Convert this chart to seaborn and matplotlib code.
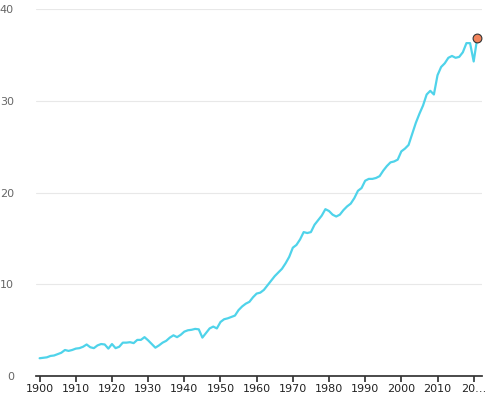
import matplotlib
matplotlib.use("Agg")
import matplotlib.pyplot as plt
import seaborn as sns
import pandas as pd

years = list(range(1900, 2022))
values = [1.95,2.0,2.05,2.2,2.25,2.4,2.55,2.85,2.75,2.85,
          3.0,3.05,3.2,3.45,3.15,3.05,3.35,3.5,3.45,3.0,
          3.5,3.05,3.2,3.65,3.65,3.7,3.6,3.95,3.95,4.25,
          3.9,3.5,3.1,3.35,3.65,3.85,4.2,4.45,4.25,4.5,
          4.85,5.0,5.05,5.15,5.1,4.2,4.7,5.2,5.4,5.2,
          5.9,6.2,6.3,6.45,6.6,7.2,7.6,7.9,8.1,8.6,
          9.0,9.1,9.4,9.9,10.4,10.9,11.3,11.7,12.3,13.0,
          14.0,14.3,14.9,15.7,15.6,15.7,16.5,17.0,17.5,18.2,
          18.0,17.6,17.4,17.6,18.1,18.5,18.8,19.4,20.2,20.5,
          21.3,21.5,21.5,21.6,21.8,22.4,22.9,23.3,23.4,23.6,
          24.5,24.8,25.2,26.4,27.6,28.6,29.5,30.7,31.1,30.7,
          32.8,33.7,34.1,34.7,34.9,34.7,34.8,35.3,36.3,36.3,
          34.3,36.9]
xticks = [1900,1910,1920,1930,1940,1950,1960,1970,1980,1990,2000,2010,2020]
xlabels = ["1900","1910","1920","1930","1940","1950","1960","1970","1980","1990","2000","2010","20…"]
yticks = [0,10,20,30,40]

df = pd.DataFrame({"year": years, "value": values})
sns.set_theme(style="white")
fig = plt.figure(figsize=(5, 4.17), dpi=100)
ax = fig.add_axes([0.072, 0.098, 0.892, 0.88])
sns.lineplot(data=df, x="year", y="value", color="#4fd3ea", linewidth=1.6, ax=ax)
sns.scatterplot(data=df.tail(1), x="year", y="value", color="#f2845c", edgecolor="#333333",
                s=40, linewidth=0.8, zorder=5, ax=ax)
ax.set_xlim(1899, 2022.3)
ax.set_ylim(0, 40)
ax.set_yticks(yticks)
ax.set_xticks(xticks)
ax.set_xticklabels(xlabels)
ax.grid(axis="y", color="#e8e8e8", linewidth=0.8)
ax.set_axisbelow(True)
for s in ["top", "right", "left"]:
    ax.spines[s].set_visible(False)
ax.spines["bottom"].set_color("#333333")
ax.tick_params(axis="x", bottom=True, length=4, color="#333333", labelsize=8, labelcolor="#222222", pad=2)
ax.tick_params(axis="y", left=False, labelsize=8, labelcolor="#666666", pad=10)
ax.set_xlabel("")
ax.set_ylabel("")
fig.savefig("out.png", dpi=100)
